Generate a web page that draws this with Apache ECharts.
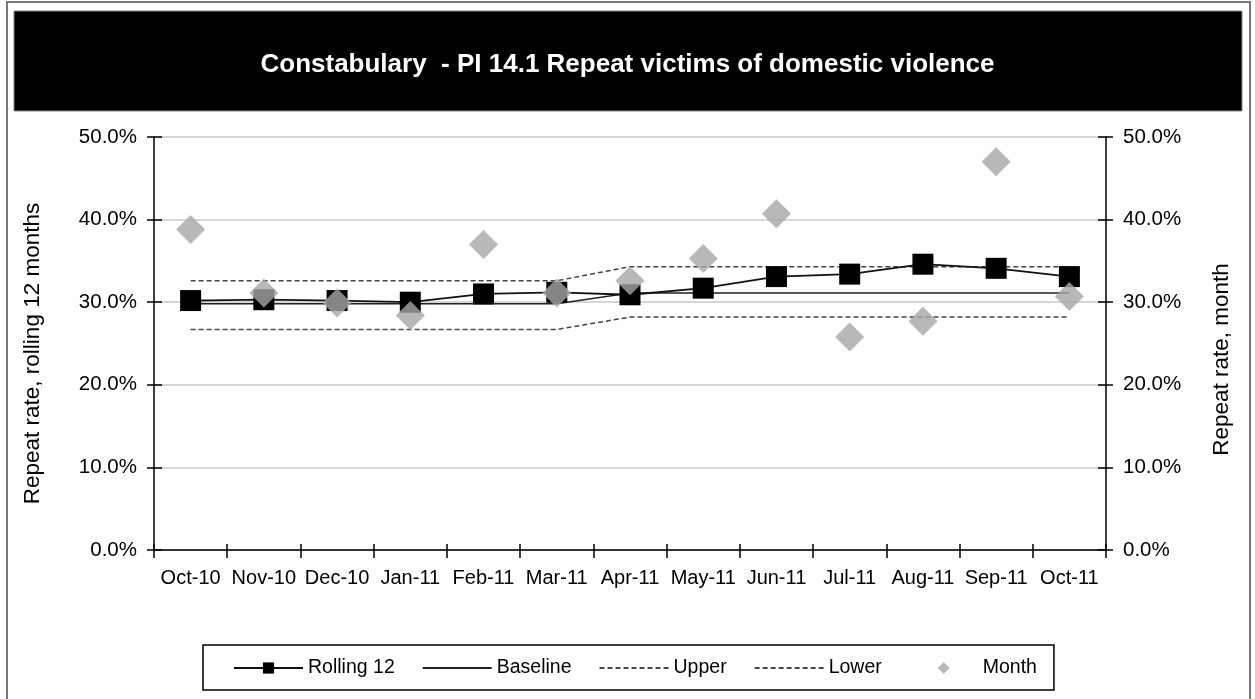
<!DOCTYPE html>
<html lang="en" style="height: 100%">
<head>
  <meta charset="utf-8">
  <title>Constabulary - PI 14.1 Repeat victims of domestic violence</title>
</head>
<body style="height: 100%; margin: 0">
  <div id="container" style="width: 1255px; height: 699px;"></div>

  <script type="text/javascript" src="https://cdn.jsdelivr.net/npm/echarts@6/dist/echarts.min.js"></script>
  <script type="text/javascript">
    // chart data (percent)
    var months = ['Oct-10', 'Nov-10', 'Dec-10', 'Jan-11', 'Feb-11', 'Mar-11', 'Apr-11',
      'May-11', 'Jun-11', 'Jul-11', 'Aug-11', 'Sep-11', 'Oct-11'];
    var rolling12 = [30.2, 30.3, 30.2, 30.0, 31.0, 31.2, 30.9, 31.7, 33.1, 33.4, 34.6, 34.1, 33.1];
    var baseline = [29.8, 29.8, 29.8, 29.8, 29.8, 29.8, 31.1, 31.1, 31.1, 31.1, 31.1, 31.1, 31.1];
    var upper = [32.6, 32.6, 32.6, 32.6, 32.6, 32.6, 34.3, 34.3, 34.3, 34.3, 34.3, 34.3, 34.3];
    var lower = [26.7, 26.7, 26.7, 26.7, 26.7, 26.7, 28.2, 28.2, 28.2, 28.2, 28.2, 28.2, 28.2];
    var monthRate = [38.8, 31.1, 29.9, 28.4, 37.0, 31.1, 32.6, 35.3, 40.7, 25.8, 27.7, 47.0, 30.7];

    var font = "'Liberation Sans', Arial, sans-serif";

    var myChart = echarts.init(document.getElementById('container'), null, { renderer: 'canvas' });

    function pct(v) { return v.toFixed(1) + '%'; }

    // y axis with labels (outside ticks)
    function valueAxis(pos, name, gap, pad) {
      return {
        type: 'value', position: pos, min: 0, max: 50, interval: 10,
        name: name, nameLocation: 'middle', nameGap: gap, nameRotate: 90,
        nameTextStyle: { color: '#000', fontSize: 22.5, fontFamily: font, padding: pad },
        axisLine: { show: true, lineStyle: { color: '#000', width: 1.5 } },
        axisTick: { show: true, length: 7, lineStyle: { color: '#000', width: 1.5 } },
        axisLabel: { color: '#000', fontSize: 20.5, fontFamily: font, margin: 17, formatter: pct },
        splitLine: { show: pos === 'left', lineStyle: { color: '#c8c8c8', width: 1.5 } }
      };
    }
    // extra axis only for inward tick halves
    function innerTicks(pos) {
      return {
        type: 'value', position: pos, min: 0, max: 50, interval: 10,
        axisLine: { show: false }, axisLabel: { show: false }, splitLine: { show: false },
        axisTick: { show: true, inside: true, length: 8, lineStyle: { color: '#000', width: 1.5 } }
      };
    }

    var option = {
      backgroundColor: '#fff',
      animation: false,
      textStyle: { fontFamily: font },
      title: {
        text: 'Constabulary  - PI 14.1 Repeat victims of domestic violence',
        left: 'center', top: 47,
        textStyle: { color: '#fff', fontSize: 26, fontWeight: 'bold', fontFamily: font }
      },
      graphic: [
        { type: 'rect', z: -10, shape: { x: 7, y: 2, width: 1243, height: 705 },
          style: { fill: '#fff', stroke: '#777', lineWidth: 2 } },
        { type: 'rect', z: -9, shape: { x: 14, y: 11, width: 1228, height: 100 },
          style: { fill: '#000', stroke: '#888', lineWidth: 1 } }
      ],
      grid: { left: 154, right: 149, top: 137, bottom: 149 },
      legend: {
        left: 203, top: 645,
        padding: [13, 17, 12, 30],
        borderColor: '#000', borderWidth: 1.5,
        itemWidth: 69, itemHeight: 14, itemGap: 27,
        symbolKeepAspect: true,
        textStyle: { color: '#000', fontSize: 19.5, fontFamily: font },
        data: ['Rolling 12', 'Baseline', 'Upper', 'Lower',
          // small diamond centred in a full-width icon box
          { name: 'Month', icon: 'path://M0,7L0.01,7M35,1L41,7L35,13L29,7ZM69,7L69.01,7' }]
      },
      xAxis: [
        {
          type: 'category', data: months, boundaryGap: true,
          axisLine: { lineStyle: { color: '#000', width: 1.5 } },
          axisTick: { show: true, length: 8, lineStyle: { color: '#000', width: 1.5 } },
          axisLabel: { color: '#000', fontSize: 20, fontFamily: font, margin: 18, interval: 0 }
        },
        {
          type: 'category', data: months, boundaryGap: true, position: 'bottom',
          axisLine: { show: false }, axisLabel: { show: false },
          axisTick: { show: true, inside: true, length: 6, lineStyle: { color: '#000', width: 1.5 } }
        }
      ],
      yAxis: [
        valueAxis('left', 'Repeat rate, rolling 12 months', 110, [0, 20, 0, 0]),
        valueAxis('right', 'Repeat rate, month', 104, [0, 32, 0, 0]),
        innerTicks('left'),
        innerTicks('right')
      ],
      series: [
        {
          name: 'Baseline', type: 'line', data: baseline, z: 2,
          symbol: 'none', lineStyle: { color: '#222', width: 1.5 }, itemStyle: { color: '#222', opacity: 0 }
        },
        {
          name: 'Upper', type: 'line', data: upper, z: 2,
          symbol: 'none', lineStyle: { color: '#444', width: 1.5, type: [5, 3] }, itemStyle: { color: '#444', opacity: 0 }
        },
        {
          name: 'Lower', type: 'line', data: lower, z: 2,
          symbol: 'none', lineStyle: { color: '#444', width: 1.5, type: [5, 3] }, itemStyle: { color: '#444', opacity: 0 }
        },
        {
          name: 'Rolling 12', type: 'line', data: rolling12, z: 3,
          symbol: 'rect', symbolSize: 21, showAllSymbol: true,
          lineStyle: { color: '#111', width: 1.8 }, itemStyle: { color: '#000' }
        },
        {
          name: 'Month', type: 'scatter', data: monthRate, yAxisIndex: 1, z: 4,
          symbol: 'diamond', symbolSize: 29, itemStyle: { color: '#a6a6a6' }
        }
      ]
    };

    myChart.setOption(option);
  </script>
</body>
</html>
